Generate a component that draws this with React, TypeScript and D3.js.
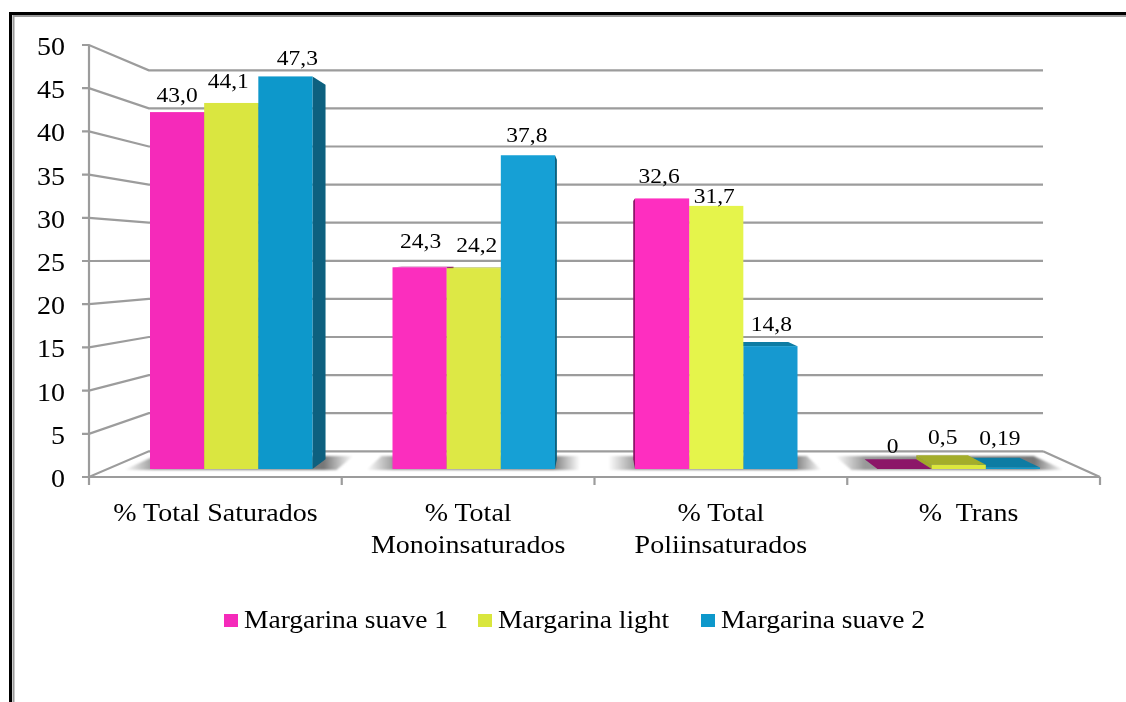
import React from "react";
import * as d3 from "d3";

const categories = ["% Total Saturados", "% Total Monoinsaturados", "% Total Poliinsaturados", "% Trans"];
const categoryLines = [["% Total Saturados"], ["% Total", "Monoinsaturados"], ["% Total", "Poliinsaturados"], ["%  Trans"]];
const seriesNames = ["Margarina suave 1", "Margarina light", "Margarina suave 2"];
const suave1 = [43.0, 24.3, 32.6, 0];
const light = [44.1, 24.2, 31.7, 0.5];
const suave2 = [47.3, 37.8, 14.8, 0.19];
const suave1Labels = ["43,0", "24,3", "32,6", "0"];
const lightLabels = ["44,1", "24,2", "31,7", "0,5"];
const suave2Labels = ["47,3", "37,8", "14,8", "0,19"];
const yTicks = [0, 5, 10, 15, 20, 25, 30, 35, 40, 45, 50];
// hand-placed label nudges from the bar top, as in the original [dx, dy]
const labelNudges = [
  [[0, -17], [1, -26], [-3, -23], [-12, -23]],
  [[-3, -22], [3, -23], [-2, -10], [-16, -28]],
  [[12, -19], [-1, -20], [1, -22], [-13, -30]],
];
const seriesValues = [suave1, light, suave2];
const seriesLabels = [suave1Labels, lightLabels, suave2Labels];

const frontColors = [
  ["#F52ABA", "#FB2DBE", "#FE2FC0", "#F52ABA"],
  ["#DAE640", "#DDE845", "#E5F44C", "#DCE83C"],
  ["#0F98CB", "#14A0D5", "#1299D0", "#0F98CB"],
];
const legendColors = ["#F52ABA", "#D9E63E", "#0F98CB"];
const topColors = ["#8C1468", "#A3AD2A", "#0E7CA3"];
const sideColors = ["#8C1468", "#A0A828", "#08607F"];

const GRID = "#9c9c9c";
const FONT = "'Liberation Serif', 'Times New Roman', serif";
const STRETCH = 1.12;
const VX = 596, VY = 255, BACK = 0.118, BAR_DEPTH = 0.046, SHADOW_DEPTH = 0.065, WALL_RIGHT = 1043;
const proj = (x: number, y: number, k: number): [number, number] => [x + (VX - x) * k, y + (VY - y) * k];
const pts = (p: [number, number][]) => p.map((q) => q.join(",")).join(" ");

const yFront = d3.scaleLinear().domain([0, 50]).range([477, 45]);
const yBar = d3.scaleLinear().domain([0, 50]).range([469, 54]);
const xAxis = d3.scaleBand().domain(categories).range([89, 1100]);
const xGroup = d3.scaleBand().domain(categories).range([150, 1040]).paddingInner(0.33);
const xSeries = d3.scaleBand().domain(seriesNames).range([0, xGroup.bandwidth()]);

// The reference text is stretched horizontally, so every label is drawn through a scale.
function Label({ x, y, size, anchor = "middle", sx = STRETCH, dy, children }: any) {
  return (
    <text transform={`translate(${x},${y}) scale(${sx},1)`} dy={dy} fontSize={size} textAnchor={anchor} fill="#000" style={{ whiteSpace: "pre" }}>
      {children}
    </text>
  );
}

function Bar({ c, s }: { c: number; s: number }) {
  const cat = categories[c];
  const v = seriesValues[s][c];
  const x0 = xGroup(cat)! + xSeries(seriesNames[s])!;
  const x1 = x0 + xSeries.bandwidth();
  const yt = yBar(v), yb = yBar(0);
  const faces: React.ReactNode[] = [];
  if (x1 < VX) {
    faces.push(<polygon key="r" fill={sideColors[s]} points={pts([[x1, yt], proj(x1, yt, BAR_DEPTH), proj(x1, yb, BAR_DEPTH), [x1, yb]])} />);
  }
  if (x0 > VX) {
    faces.push(<polygon key="l" fill={sideColors[s]} points={pts([[x0, yt], proj(x0, yt, BAR_DEPTH), proj(x0, yb, BAR_DEPTH), [x0, yb]])} />);
  }
  if (yt > VY) {
    faces.push(<polygon key="t" fill={topColors[s]} points={pts([[x0, yt], proj(x0, yt, BAR_DEPTH), proj(x1, yt, BAR_DEPTH), [x1, yt]])} />);
  }
  return (
    <g>
      {faces}
      <rect x={x0} y={yt} width={xSeries.bandwidth()} height={yb - yt} fill={frontColors[s][c]} />
    </g>
  );
}

export default function App() {
  const floor = proj(89, yFront(0), BACK)[1] + 0.5;
  const seriesIdx = [0, 1, 2];
  return (
    <svg width={1126} height={702} style={{ position: "absolute", left: 0, top: 0, background: "#fff" }} fontFamily={FONT}>
      <defs>
        <linearGradient id="shadow" x1="0" x2="1" y1="0" y2="0">
          <stop offset="0" stopColor="#fff" />
          <stop offset="0.13" stopColor="#999" />
          <stop offset="0.87" stopColor="#777" />
          <stop offset="1" stopColor="#fff" />
        </linearGradient>
        <filter id="soft" x="-2%" y="-2%" width="104%" height="104%">
          <feGaussianBlur stdDeviation="0.45" />
        </filter>
        <filter id="softS" x="-10%" y="-30%" width="120%" height="160%">
          <feGaussianBlur stdDeviation="1.2" />
        </filter>
      </defs>
      <g filter="url(#soft)">
        {/* frame */}
        <path d="M13.5,702 V16 H1126" fill="none" stroke="#9a9a9a" strokeWidth={2} />
        <path d="M10.5,702 V13.5 H1126" fill="none" stroke="#000" strokeWidth={3} />

        {/* walls */}
        {yTicks.map((t) => {
          const [bx, by] = proj(89, yFront(t), BACK);
          return (
            <polyline key={t} fill="none" stroke={GRID} strokeWidth={2.2}
              points={pts([[82, yFront(t)], [89, yFront(t)], [bx, by + 0.5], [WALL_RIGHT, by + 0.5]])} />
          );
        })}
        <line x1={WALL_RIGHT} y1={floor} x2={1100} y2={yFront(0)} stroke={GRID} strokeWidth={2.2} />
        <line x1={89} y1={yFront(50)} x2={89} y2={485} stroke={GRID} strokeWidth={2.2} />
        <line x1={82} y1={yFront(0)} x2={1100} y2={yFront(0)} stroke={GRID} strokeWidth={2.2} />
        {categories.map((c) => (
          <line key={c} x1={xAxis(c)! + xAxis.bandwidth()} x2={xAxis(c)! + xAxis.bandwidth()} y1={477} y2={485} stroke={GRID} strokeWidth={2.2} />
        ))}

        {/* floor shadows */}
        {categories.map((c) => {
          const x0 = xGroup(c)!, x1 = x0 + xGroup.bandwidth();
          const yb = yBar(0) + 1;
          return (
            <polygon key={c} fill="url(#shadow)" filter="url(#softS)"
              points={pts([[x0 - 26, yb], [x1 + 24, yb], proj(x1 + 24, yb, SHADOW_DEPTH), proj(x0 - 26, yb, SHADOW_DEPTH)])} />
          );
        })}

        {/* bars */}
        {categories.map((c, ci) => {
          const leftSide = xGroup(c)! + xGroup.bandwidth() / 2 < VX;
          const order = leftSide ? seriesIdx : [...seriesIdx].reverse();
          return <g key={c}>{order.map((s) => <Bar key={s} c={ci} s={s} />)}</g>;
        })}

        {/* y tick labels */}
        {yTicks.map((t) => (
          <Label key={t} x={65} y={yFront(t) + 1.5} dy="0.34em" size={25} anchor="end">{t}</Label>
        ))}

        {/* data labels */}
        {seriesIdx.map((s) =>
          categories.map((c, ci) => {
            const cx = xGroup(c)! + xSeries(seriesNames[s])! + xSeries.bandwidth() / 2 + labelNudges[s][ci][0];
            const cy = yBar(seriesValues[s][ci]) + labelNudges[s][ci][1];
            return <Label key={c + s} x={cx} y={cy} dy="0.34em" size={21}>{seriesLabels[s][ci]}</Label>;
          })
        )}

        {/* category labels */}
        {categories.map((c, ci) =>
          categoryLines[ci].map((l, i) => (
            <Label key={c + i} x={xAxis(c)! + xAxis.bandwidth() / 2 - (ci === 3 ? 5 : 0)} y={521 + i * 32} size={25}>{l}</Label>
          ))
        )}

        {/* legend */}
        {seriesNames.map((n, i) => {
          const xs = [224, 478, 701];
          return (
            <g key={n}>
              <rect x={xs[i]} y={614} width={14} height={13} fill={legendColors[i]} />
              <Label x={xs[i] + 20} y={628} size={25} anchor="start" sx={1.1}>{n}</Label>
            </g>
          );
        })}
      </g>
    </svg>
  );
}
